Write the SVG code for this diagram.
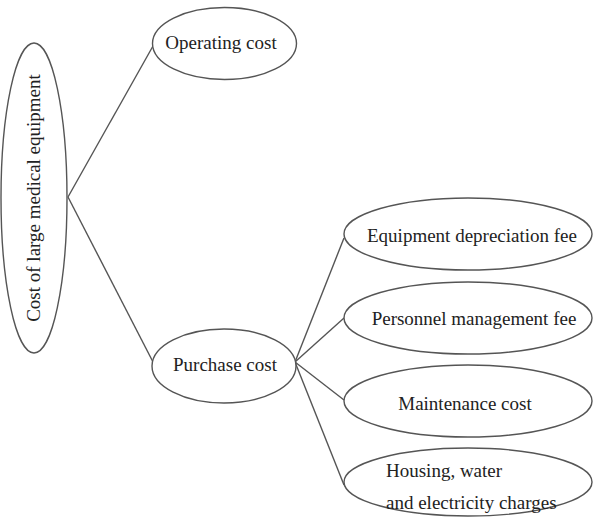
<svg xmlns="http://www.w3.org/2000/svg" width="593" height="517" viewBox="0 0 593 517">
<style>
ellipse{fill:#fff;stroke:#555;stroke-width:1.4}
line{stroke:#555;stroke-width:1.4}
text{font-family:"Liberation Serif","Times New Roman",serif;font-size:19px;fill:#222}
.m{text-anchor:middle}
</style>
<rect width="593" height="517" fill="#fff"/>
<g id="connectors">
<line x1="68" y1="197" x2="153" y2="46"/>
<line x1="68" y1="197" x2="153" y2="362"/>
<line x1="295" y1="362" x2="344" y2="238"/>
<line x1="295" y1="362" x2="344" y2="318"/>
<line x1="295" y1="362" x2="344" y2="400"/>
<line x1="295" y1="362" x2="344" y2="485"/>
</g>
<g id="root">
<ellipse cx="34" cy="198" rx="33" ry="155"/>
<text class="m" transform="translate(40,198) rotate(-90)">Cost of large medical equipment</text>
</g>
<g id="operating">
<ellipse cx="224.5" cy="43.5" rx="72" ry="36"/>
<text class="m" x="221" y="49">Operating cost</text>
</g>
<g id="purchase">
<ellipse cx="224" cy="366" rx="72" ry="37"/>
<text class="m" x="225" y="371">Purchase cost</text>
</g>
<g id="depreciation">
<ellipse cx="468" cy="234" rx="124" ry="36"/>
<text class="m" x="472" y="242">Equipment depreciation fee</text>
</g>
<g id="personnel">
<ellipse cx="468" cy="318" rx="124" ry="36"/>
<text class="m" x="474" y="325">Personnel management fee</text>
</g>
<g id="maintenance">
<ellipse cx="468" cy="401" rx="124" ry="36"/>
<text class="m" x="465" y="410">Maintenance cost</text>
</g>
<g id="housing">
<ellipse cx="468" cy="482" rx="124" ry="34"/>
<text x="386" y="477">Housing, water</text>
<text x="386" y="509">and electricity charges</text>
</g>
</svg>
